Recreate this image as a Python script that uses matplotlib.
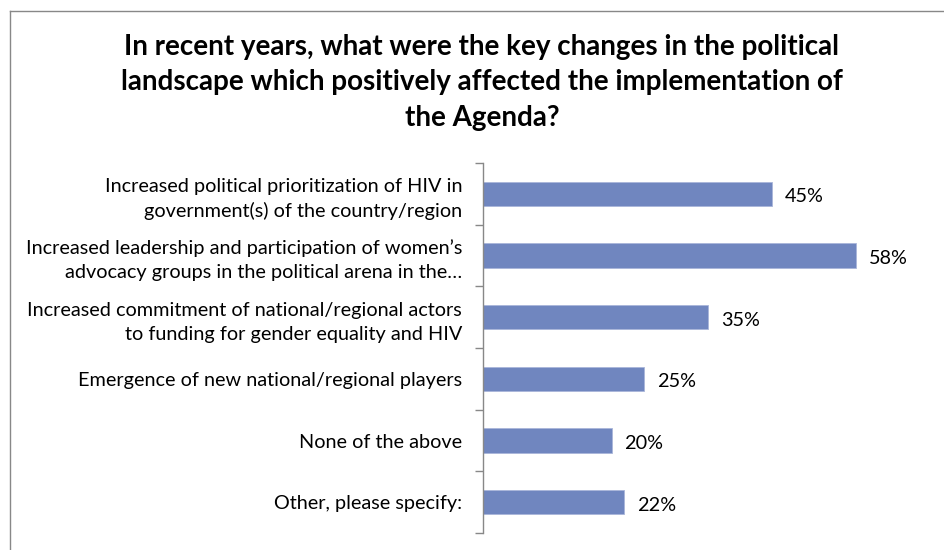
import matplotlib
matplotlib.use("Agg")
from matplotlib import pyplot as plt
from matplotlib.lines import Line2D

plt.rcParams['font.family'] = ['Lato', 'DejaVu Sans']

categories = [
    "Increased political prioritization of HIV in\ngovernment(s) of the country/region",
    "Increased leadership and participation of women\u2019s\nadvocacy groups in the political arena in the\u2026",
    "Increased commitment of national/regional actors\nto funding for gender equality and HIV",
    "Emergence of new national/regional players",
    "None of the above",
    "Other, please specify:",
]
values = [45, 58, 35, 25, 20, 22]
value_labels = ["45%", "58%", "35%", "25%", "20%", "22%"]

title = ("In recent years, what were the key changes in the political\n"
         "landscape which positively affected the implementation of\n"
         "the Agenda?")

W, H = 944, 550
fig = plt.figure(figsize=(W / 100, H / 100), dpi=100)
fig.patch.set_facecolor("white")

# axes box in pixel terms: axis line at x=483, rows from y=163 to y=533
left, right = 483, 901
top, bottom = 163, 533
ax = fig.add_axes([left / W, 1 - bottom / H, (right - left) / W, (bottom - top) / H])

pos = list(range(len(categories)))
ax.barh(pos, values, height=0.39, color="#7086BF", edgecolor="#A9B6DA", linewidth=0.6)
ax.set_ylim(len(categories) - 0.5, -0.5)
ax.set_xlim(0, 65)

for p, v, lab in zip(pos, values, value_labels):
    ax.text(v + 2.0, p + 0.05, lab, va="center", ha="left", fontsize=14.3, color="black")

ax.set_yticks(pos)
ax.set_yticklabels(categories, fontsize=14.3, ha="right", linespacing=1.5)
ax.tick_params(axis="y", which="major", length=0, pad=15)
ax.set_yticks([p - 0.5 for p in pos] + [len(pos) - 0.5], minor=True)
ax.tick_params(axis="y", which="minor", length=6, color="#888888", width=1)
ax.set_xticks([])

for s in ["top", "right", "bottom"]:
    ax.spines[s].set_visible(False)
ax.spines["left"].set_color("#888888")
ax.spines["left"].set_linewidth(1)

fig.text(482 / W, 1 - 34 / H, title, ha="center", va="top", fontsize=20,
         fontweight="bold", linespacing=1.45)

# chart frame (left and top edges)
fig.add_artist(Line2D([10 / W, 10 / W], [0, 1 - 11 / H], color="#888888", lw=1))
fig.add_artist(Line2D([10 / W, 1], [1 - 11 / H, 1 - 11 / H], color="#888888", lw=1))

fig.savefig("out.png", dpi=100)
